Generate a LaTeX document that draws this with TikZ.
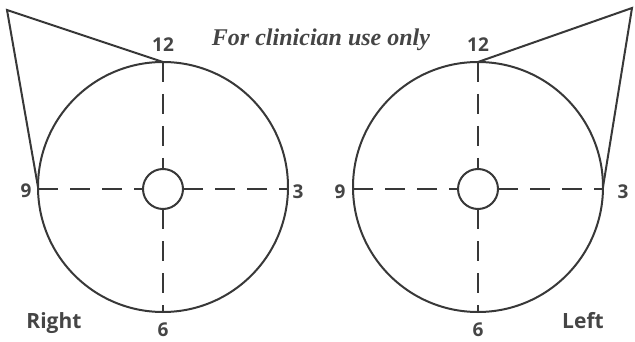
\documentclass[tikz,border=0pt]{standalone}
\usepackage{fontspec}
\setmainfont{Liberation Serif}
\setsansfont{Open Sans}
\definecolor{ink}{HTML}{383838}
\definecolor{txt}{HTML}{454545}
\begin{document}
\begin{tikzpicture}[x={(1pt,0)},y={(0,-1pt)},
  bigc/.style={circle,draw=ink,line width=2pt,minimum size=250pt,inner sep=0pt,outer sep=0pt},
  smallc/.style={circle,draw=ink,line width=2pt,minimum size=40pt,inner sep=0pt,outer sep=0pt},
  dashline/.style={draw=ink,line width=2pt,dash pattern=on 20pt off 12pt},
  edge/.style={draw=ink,line width=2pt,line join=miter},
  num/.style={font=\sffamily\bfseries\fontsize{19}{21}\selectfont,text=txt,inner sep=0pt},
  side/.style={font=\sffamily\bfseries\fontsize{21}{23}\selectfont,text=txt,inner sep=0pt},
  title/.style={font=\rmfamily\bfseries\itshape\fontsize{24}{26}\selectfont,text=txt,inner sep=0pt}]
\useasboundingbox (0,0) rectangle (635,342);
% right eye (left panel)
\node[bigc] (RB) at (163,187) {};
\node[smallc] (RS) at (163,189) {};
\coordinate (RA) at (7,10);
\path[dashline] (RB.north) -- (RS.north);
\path[dashline] (RS.south) -- (RB.south);
\path[dashline] (RB.west |- RS.west) -- (RS.west);
\path[dashline] (RS.east) -- (RB.east |- RS.east);
\path[edge] (RB.north) -- (RA) -- (RB.west);
\node[num] (R12) at (163,45) {12};
\node[num] (R9) at (26,191) {9};
\node[num] (R3) at (298,192) {3};
\node[num] (R6) at (163,330) {6};
\node[side] (RL) at (54,323) {Right};
% left eye (right panel)
\node[bigc] (LB) at (478,187) {};
\node[smallc] (LS) at (478,189) {};
\coordinate (LA) at (632,8);
\path[dashline] (LB.north) -- (LS.north);
\path[dashline] (LS.south) -- (LB.south);
\path[dashline] (LB.west |- LS.west) -- (LS.west);
\path[dashline] (LS.east) -- (LB.east |- LS.east);
\path[edge] (LB.north) -- (LA) -- (LB.east);
\node[num] (L12) at (478,45) {12};
\node[num] (L9) at (340,192) {9};
\node[num] (L3) at (623,192) {3};
\node[num] (L6) at (478,330) {6};
\node[side] (LL) at (583,321) {Left};
\node[title] (T) at (321,40) {For clinician use only};
\end{tikzpicture}
\end{document}
